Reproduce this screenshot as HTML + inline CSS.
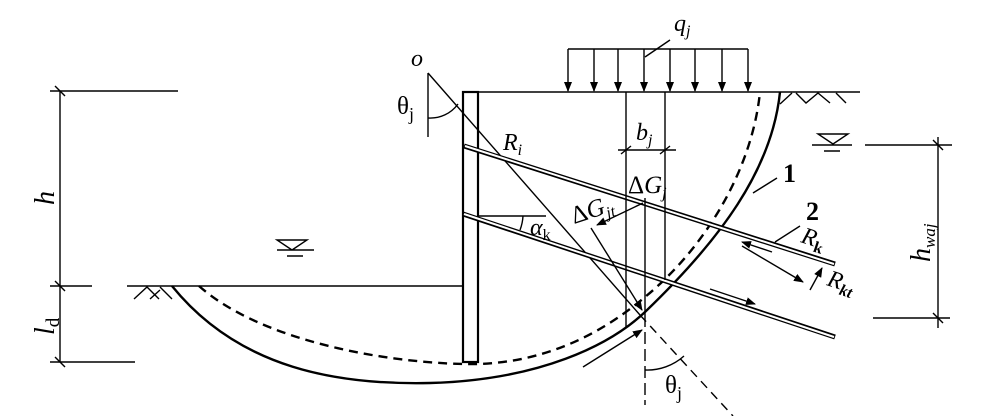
<!DOCTYPE html>
<html><head><meta charset="utf-8"><style>
html,body{margin:0;padding:0;background:#fff}
svg{display:block}
text{font-family:"Liberation Serif",serif;fill:#000}
</style></head><body>
<svg width="984" height="416" viewBox="0 0 984 416" xmlns="http://www.w3.org/2000/svg">
<defs>
<marker id="a" markerWidth="10" markerHeight="8" refX="9" refY="4" orient="auto" markerUnits="userSpaceOnUse"><path d="M0,0 L10,4 L0,8 z" fill="#000"/></marker>
</defs>
<g stroke="#000" fill="none" stroke-width="1.4">
<line x1="60" y1="91" x2="60" y2="362"/>
<line x1="50" y1="91" x2="178" y2="91"/>
<line x1="50" y1="286" x2="92" y2="286"/>
<line x1="127" y1="286" x2="463" y2="286"/>
<line x1="50" y1="362" x2="135" y2="362"/>
<line x1="55" y1="86" x2="65" y2="96"/><line x1="55" y1="281" x2="65" y2="291"/><line x1="55" y1="357" x2="65" y2="367"/>
<path d="M134,299 L147,287 L159,299 M150,299 L160,290 M160,287 L172,299"/>
<path d="M277,240 L307,240 L292,250 z M277,250 L314,250 M287,256 L303,256"/>
<rect x="463" y="92" width="15" height="270" stroke-width="2.2"/>
<line x1="478" y1="92" x2="860" y2="92"/>
<path d="M780,104 L792,93 M796,93 L806,103 L818,93 L830,103 M836,93 L846,103"/>
<path d="M818,134 L848,134 L833,144 z M812,145 L852,145 M824,151 L840,151"/>
<line x1="938" y1="137" x2="938" y2="328"/>
<line x1="865" y1="145" x2="952" y2="145"/>
<line x1="873" y1="318" x2="950" y2="318"/>
<line x1="933" y1="140" x2="943" y2="150"/><line x1="933" y1="313" x2="943" y2="323"/>
<line x1="568" y1="49" x2="748" y2="49"/>
<g marker-end="url(#a)">
<line x1="568" y1="49" x2="568" y2="91"/><line x1="594" y1="49" x2="594" y2="91"/><line x1="618" y1="49" x2="618" y2="91"/><line x1="644" y1="49" x2="644" y2="91"/><line x1="670" y1="49" x2="670" y2="91"/><line x1="695" y1="49" x2="695" y2="91"/><line x1="722" y1="49" x2="722" y2="91"/><line x1="748" y1="49" x2="748" y2="91"/>
</g>
<line x1="645" y1="57" x2="670" y2="40"/>
<line x1="428" y1="73" x2="428" y2="137"/>
<line x1="428" y1="73" x2="640" y2="315"/>
<line x1="640" y1="315" x2="733" y2="416" stroke-dasharray="9,6"/>
<path d="M428,118 A34,34 0 0 0 458,104"/>
<path d="M172,286 C240,370 340,385 430,383 C540,380 610,345 645,312 C720,240 772,170 780,92" stroke-width="2.4"/>
<path d="M199,286 C260,340 380,362 463,364 C540,366 600,335 645,297 C705,248 752,170 760,92" stroke-width="2.4" stroke-dasharray="9,6"/>
<g stroke-width="5"><line x1="464" y1="146" x2="835" y2="264"/><line x1="463" y1="214" x2="835" y2="337"/></g>
<g stroke="#fff" stroke-width="2"><line x1="465" y1="146" x2="834" y2="264"/><line x1="464" y1="214" x2="834" y2="337"/></g>
<line x1="478" y1="216" x2="546" y2="216"/>
<path d="M523,216 A45,45 0 0 1 520,230"/>
<line x1="626" y1="92" x2="626" y2="327"/>
<line x1="665" y1="92" x2="665" y2="280"/>
<line x1="645" y1="198" x2="645" y2="315"/>
<line x1="645" y1="315" x2="645" y2="405" stroke-dasharray="12,5"/>
<line x1="618" y1="150" x2="676" y2="150"/>
<line x1="621" y1="154" x2="631" y2="146"/><line x1="660" y1="154" x2="670" y2="146"/>
<line x1="643" y1="203" x2="597" y2="225" marker-end="url(#a)"/>
<line x1="591" y1="228" x2="642" y2="310" marker-end="url(#a)"/>
<line x1="583" y1="367" x2="642" y2="330" marker-end="url(#a)"/>
<path d="M645,370 A55,55 0 0 0 684,356"/>
<line x1="772" y1="252" x2="742" y2="242" marker-end="url(#a)"/>
<line x1="742" y1="246" x2="803" y2="282" marker-end="url(#a)"/>
<line x1="810" y1="290" x2="822" y2="268" marker-end="url(#a)"/>
<line x1="710" y1="289" x2="755" y2="304" marker-end="url(#a)"/>
<line x1="775" y1="242" x2="800" y2="226"/>
<line x1="753" y1="193" x2="777" y2="178"/>
</g>
<text x="411" y="66" font-size="24" font-style="italic">o</text>
<text x="397" y="114" font-size="25">θ<tspan font-size="18" dy="6">j</tspan></text>
<text x="665" y="393" font-size="25">θ<tspan font-size="18" dy="6">j</tspan></text>
<text x="674" y="31" font-size="24" font-style="italic">q<tspan font-size="16" dy="5">j</tspan></text>
<text x="503" y="150" font-size="24" font-style="italic">R<tspan font-size="16" dy="5">i</tspan></text>
<text x="636" y="140" font-size="24" font-style="italic">b<tspan font-size="16" dy="5">j</tspan></text>
<text x="628" y="193" font-size="25">Δ<tspan font-style="italic">G</tspan><tspan font-size="16" dy="5" font-style="italic">j</tspan></text>
<text transform="translate(574,224) rotate(-18)" font-size="25">Δ<tspan font-style="italic">G</tspan><tspan font-size="16" dy="5" font-style="italic">jt</tspan></text>
<text x="530" y="235" font-size="24" font-style="italic">α<tspan font-size="16" dy="5" font-style="normal">k</tspan></text>
<text x="783" y="182" font-size="26" font-weight="bold">1</text>
<text x="806" y="220" font-size="26" font-weight="bold">2</text>
<text transform="translate(800,242) rotate(18)" font-size="24" font-style="italic">R<tspan font-size="16" dy="5" font-style="normal" font-weight="bold">k</tspan></text>
<text transform="translate(826,285) rotate(18)" font-size="24" font-style="italic">R<tspan font-size="16" dy="5" font-weight="bold">kt</tspan></text>
<text transform="translate(54,205) rotate(-90)" font-size="28" font-style="italic">h</text>
<text transform="translate(54,335) rotate(-90)" font-size="28" font-style="italic">l<tspan font-size="19" dy="5" font-style="normal">d</tspan></text>
<text transform="translate(930,262) rotate(-90)" font-size="28" font-style="italic">h<tspan font-size="17" dy="5">waj</tspan></text>
</svg>
</body></html>
